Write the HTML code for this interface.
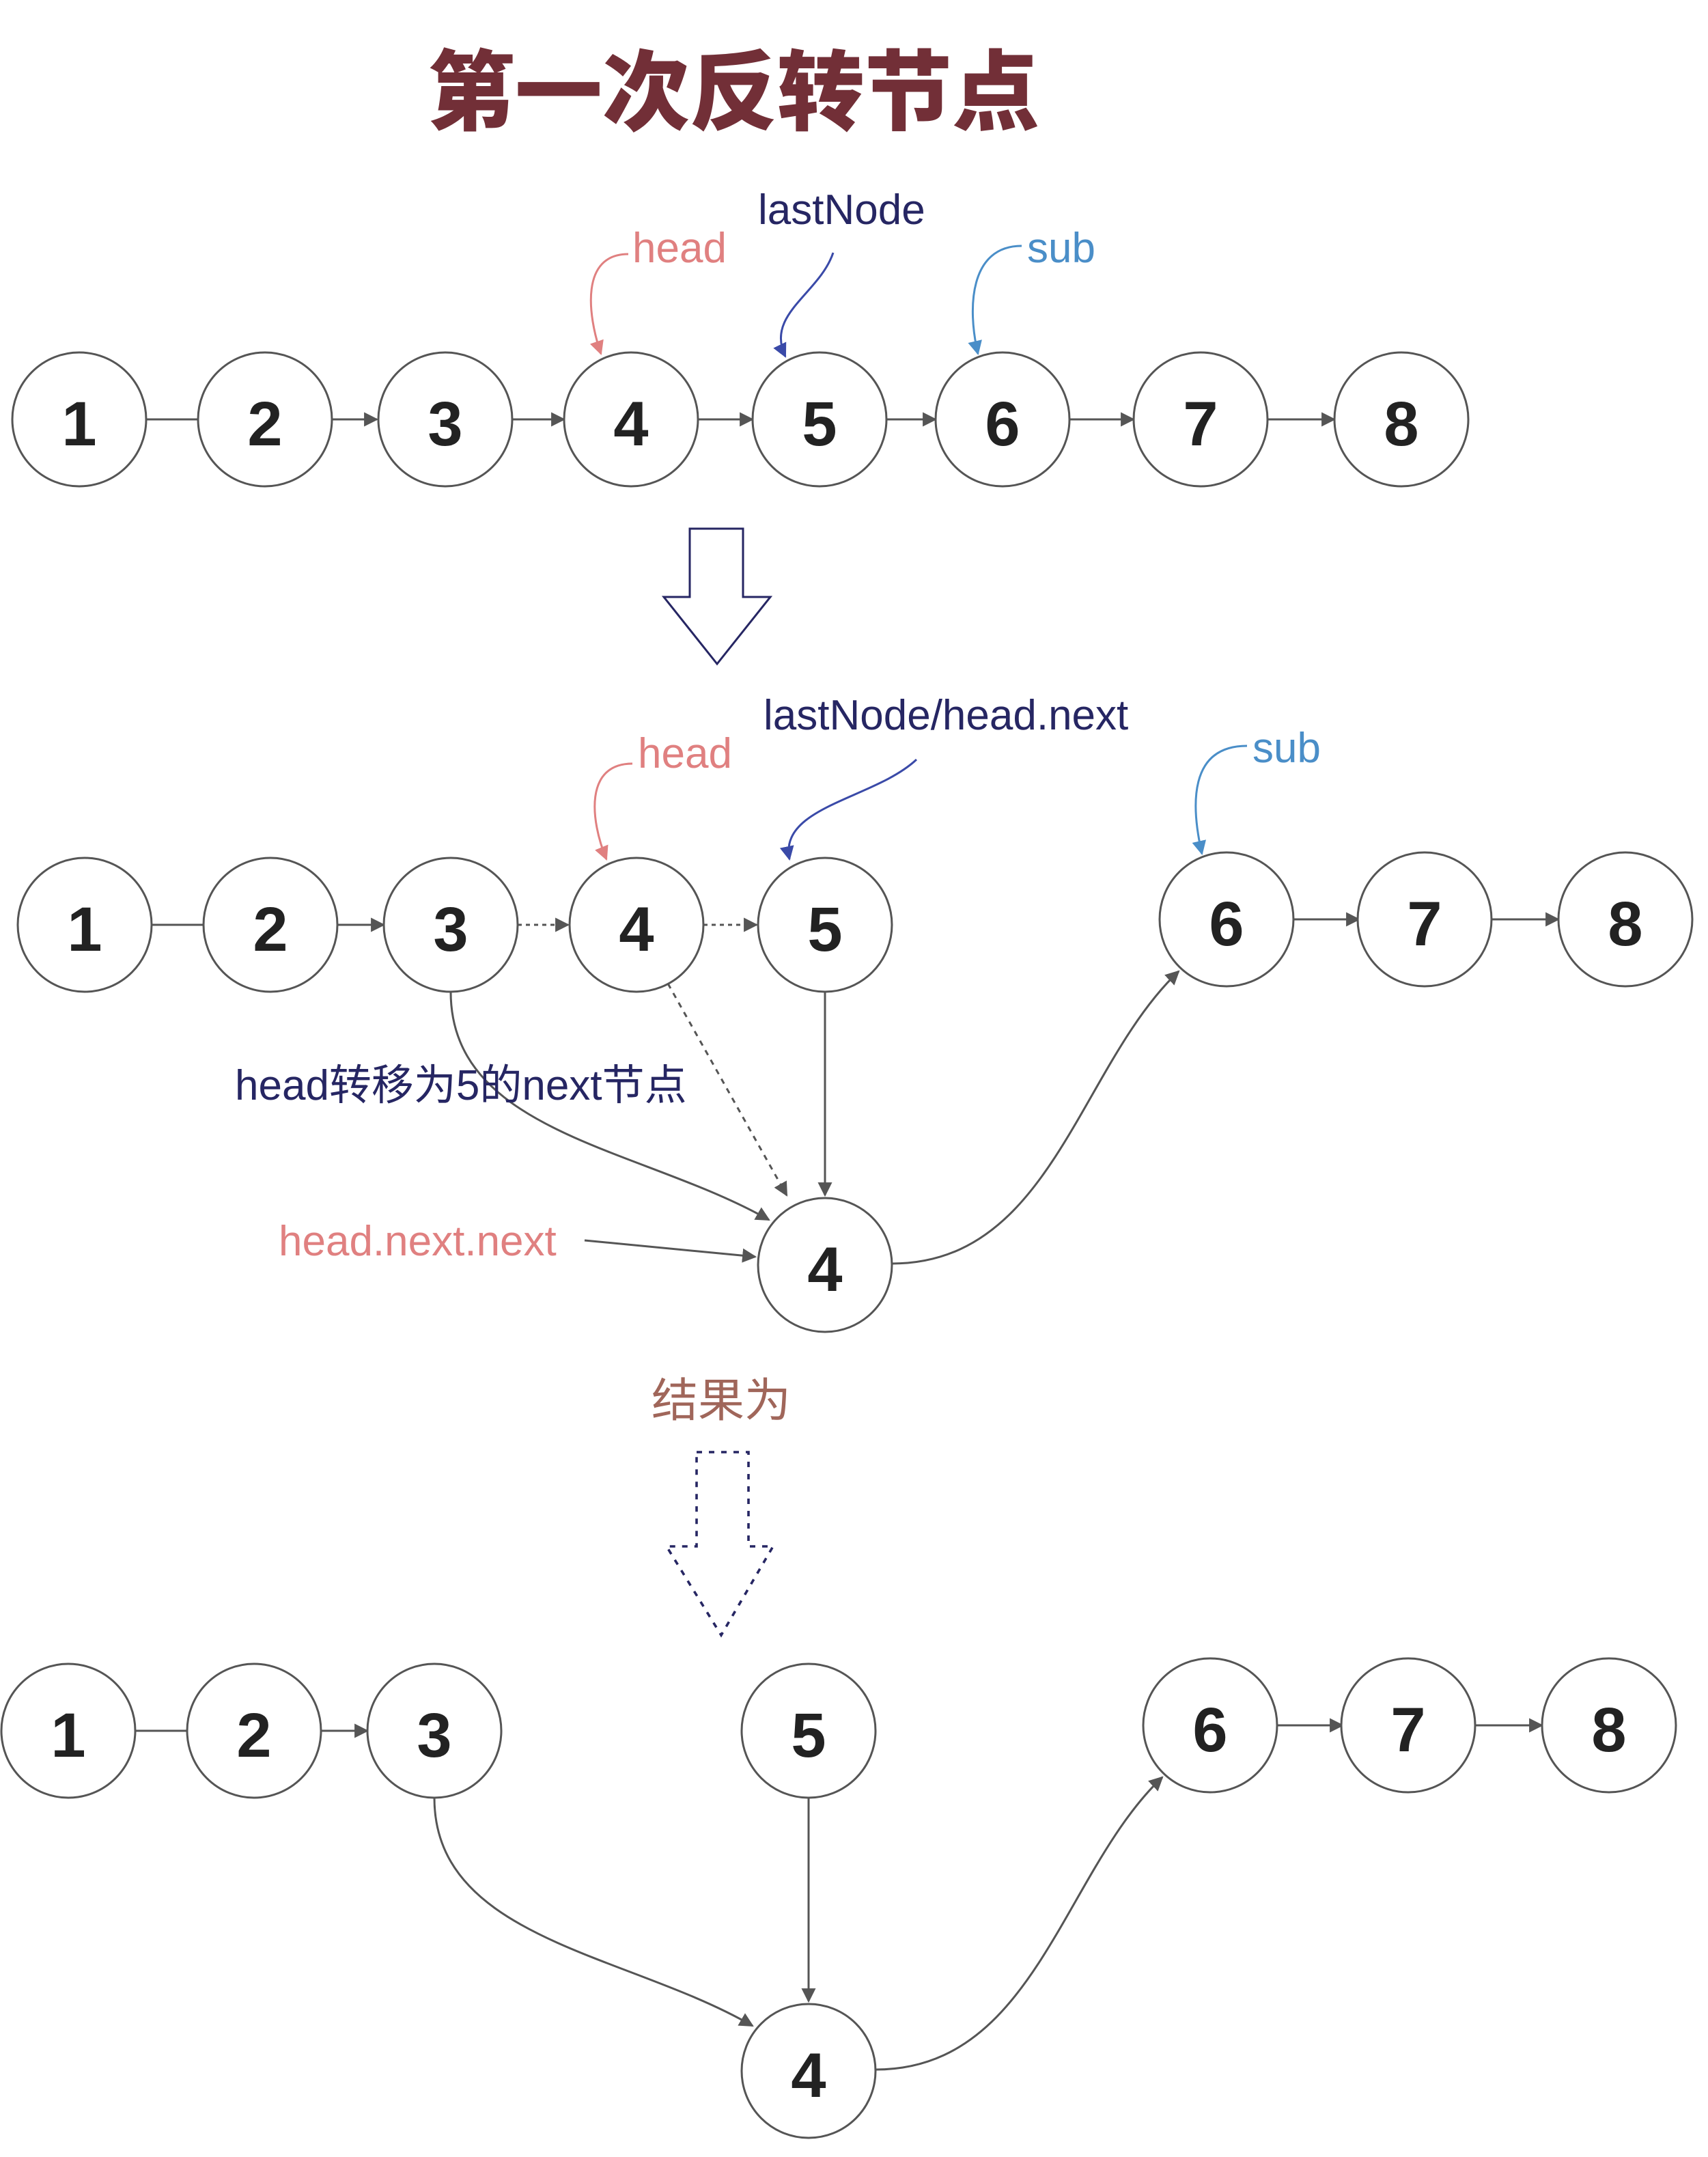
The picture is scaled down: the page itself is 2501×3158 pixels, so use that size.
<!DOCTYPE html>
<html><head><meta charset="utf-8"><style>
html,body{margin:0;padding:0;background:#fff}
svg{display:block}
.n{fill:#fff;stroke:#555;stroke-width:1.5}
.d{font-family:"Liberation Sans","DejaVu Sans",sans-serif;font-weight:bold;font-size:46px;fill:#222;text-anchor:middle}
.l{font-family:"Liberation Sans","Noto Sans CJK SC",sans-serif;font-size:31px}
.e{stroke:#555;stroke-width:1.5;fill:none}
</style></head><body>
<svg width="2501" height="3158" viewBox="0 0 1250.5 1579" xmlns="http://www.w3.org/2000/svg">
<defs>
<marker id="a" viewBox="0 0 10 10" refX="9" refY="5" markerWidth="7" markerHeight="7" orient="auto"><path d="M0,0L10,5L0,10z" fill="#555"/></marker>
<marker id="ar" viewBox="0 0 10 10" refX="9" refY="5" markerWidth="7" markerHeight="7" orient="auto"><path d="M0,0L10,5L0,10z" fill="#e08080"/></marker>
<marker id="ab" viewBox="0 0 10 10" refX="9" refY="5" markerWidth="7" markerHeight="7" orient="auto"><path d="M0,0L10,5L0,10z" fill="#3a4aa8"/></marker>
<marker id="as" viewBox="0 0 10 10" refX="9" refY="5" markerWidth="7" markerHeight="7" orient="auto"><path d="M0,0L10,5L0,10z" fill="#4a8ec8"/></marker>
</defs>
<text x="313" y="90" font-family="'Liberation Sans','Noto Sans CJK SC',sans-serif" font-weight="900" font-size="64" fill="#722f37">第一次反转节点</text>

<!-- row 1 -->
<g class="e" marker-end="url(#a)">
<path d="M107,307H156"/><path d="M243,307H276"/><path d="M375,307H413"/><path d="M511,307H551"/><path d="M649,307H685"/><path d="M783,307H830"/><path d="M928,307H977"/>
</g>
<g>
<circle class="n" cx="58" cy="307" r="49"/><circle class="n" cx="194" cy="307" r="49"/><circle class="n" cx="326" cy="307" r="49"/><circle class="n" cx="462" cy="307" r="49"/><circle class="n" cx="600" cy="307" r="49"/><circle class="n" cx="734" cy="307" r="49"/><circle class="n" cx="879" cy="307" r="49"/><circle class="n" cx="1026" cy="307" r="49"/>
<text class="d" x="58" y="326">1</text><text class="d" x="194" y="326">2</text><text class="d" x="326" y="326">3</text><text class="d" x="462" y="326">4</text><text class="d" x="600" y="326">5</text><text class="d" x="734" y="326">6</text><text class="d" x="879" y="326">7</text><text class="d" x="1026" y="326">8</text>
</g>
<text class="l" x="463" y="192" fill="#e08080">head</text>
<text class="l" x="555" y="164" fill="#262663">lastNode</text>
<text class="l" x="752" y="192" fill="#4a8ec8">sub</text>
<path d="M460,186C425,186 430,230 440,259" stroke="#e08080" stroke-width="1.5" fill="none" marker-end="url(#ar)"/>
<path d="M610,185C600,215 560,230 575,261" stroke="#3a4aa8" stroke-width="1.5" fill="none" marker-end="url(#ab)"/>
<path d="M748,180C710,180 708,225 716,259" stroke="#4a8ec8" stroke-width="1.5" fill="none" marker-end="url(#as)"/>

<path d="M505,387H544V437H564L525,486L486,437H505Z" fill="none" stroke="#262663" stroke-width="1.5"/>

<!-- row 2 -->
<g class="e" marker-end="url(#a)">
<path d="M111,677H160"/><path d="M247,677H281"/>
<path d="M379,677H416" stroke-dasharray="3,3"/><path d="M515,677H554" stroke-dasharray="3,3"/>
<path d="M947,673H995"/><path d="M1092,673H1141"/>
<path d="M604,726V875"/>
<path d="M489,720L576,875" stroke-dasharray="4,4"/>
<path d="M330,726C330,830 470,840 563,893"/>
<path d="M428,908L553,920"/>
<path d="M653,925C770,925 790,780 863,711"/>
</g>
<circle class="n" cx="62" cy="677" r="49"/><circle class="n" cx="198" cy="677" r="49"/><circle class="n" cx="330" cy="677" r="49"/><circle class="n" cx="466" cy="677" r="49"/><circle class="n" cx="604" cy="677" r="49"/>
<circle class="n" cx="898" cy="673" r="49"/><circle class="n" cx="1043" cy="673" r="49"/><circle class="n" cx="1190" cy="673" r="49"/><circle class="n" cx="604" cy="926" r="49"/>
<text class="d" x="62" y="696">1</text><text class="d" x="198" y="696">2</text><text class="d" x="330" y="696">3</text><text class="d" x="466" y="696">4</text><text class="d" x="604" y="696">5</text>
<text class="d" x="898" y="692">6</text><text class="d" x="1043" y="692">7</text><text class="d" x="1190" y="692">8</text><text class="d" x="604" y="945">4</text>
<text class="l" x="467" y="562" fill="#e08080">head</text>
<text class="l" x="559" y="534" fill="#262663">lastNode/head.next</text>
<text class="l" x="917" y="558" fill="#4a8ec8">sub</text>
<text class="l" x="172" y="805" fill="#262663">head转移为5的next节点</text>
<text class="l" x="204" y="919" fill="#e08080">head.next.next</text>
<path d="M463,559C428,559 432,600 444,629" stroke="#e08080" stroke-width="1.5" fill="none" marker-end="url(#ar)"/>
<path d="M671,556C640,585 570,590 578,629" stroke="#3a4aa8" stroke-width="1.5" fill="none" marker-end="url(#ab)"/>
<path d="M913,546C870,546 872,590 880,625" stroke="#4a8ec8" stroke-width="1.5" fill="none" marker-end="url(#as)"/>

<text x="477" y="1037" font-family="'Liberation Sans','Noto Sans CJK SC',sans-serif" font-size="34" fill="#a0665a">结果为</text>
<path d="M510,1063H548V1132H566L528,1197L488,1132H510Z" fill="none" stroke="#262663" stroke-width="1.8" stroke-dasharray="4,5"/>

<!-- row 3 -->
<g class="e" marker-end="url(#a)">
<path d="M99,1267H148"/><path d="M235,1267H269"/>
<path d="M935,1263H983"/><path d="M1080,1263H1129"/>
<path d="M592,1316V1465"/>
<path d="M318,1316C318,1420 460,1430 551,1483"/>
<path d="M641,1515C758,1515 778,1370 851,1301"/>
</g>
<circle class="n" cx="50" cy="1267" r="49"/><circle class="n" cx="186" cy="1267" r="49"/><circle class="n" cx="318" cy="1267" r="49"/><circle class="n" cx="592" cy="1267" r="49"/>
<circle class="n" cx="886" cy="1263" r="49"/><circle class="n" cx="1031" cy="1263" r="49"/><circle class="n" cx="1178" cy="1263" r="49"/><circle class="n" cx="592" cy="1516" r="49"/>
<text class="d" x="50" y="1286">1</text><text class="d" x="186" y="1286">2</text><text class="d" x="318" y="1286">3</text><text class="d" x="592" y="1286">5</text>
<text class="d" x="886" y="1282">6</text><text class="d" x="1031" y="1282">7</text><text class="d" x="1178" y="1282">8</text><text class="d" x="592" y="1535">4</text>
</svg>
</body></html>
